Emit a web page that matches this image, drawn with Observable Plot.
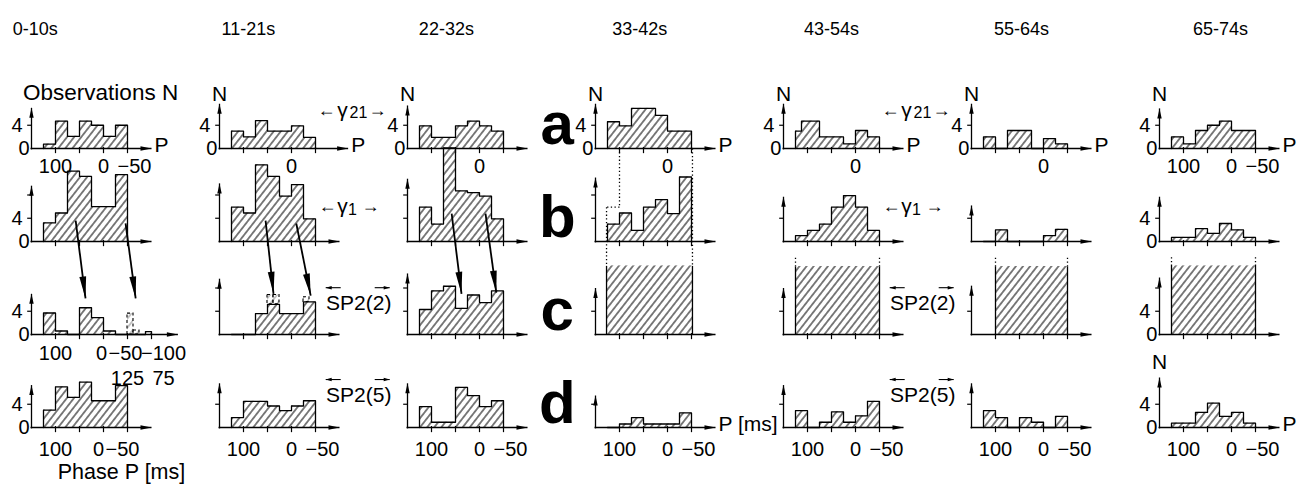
<!DOCTYPE html>
<html>
<head>
<meta charset="utf-8">
<script src="https://cdn.jsdelivr.net/npm/d3@7"></script>
<script src="https://cdn.jsdelivr.net/npm/@observablehq/plot@0.6"></script>
<style>
  html, body { margin: 0; padding: 0; background: #fff; }
  #chart svg { display: block; }
</style>
</head>
<body>
<div id="chart"></div>
<script>
// ---------------- DATA ----------------
const periods = ["0-10s", "11-21s", "22-32s", "33-42s", "43-54s", "55-64s", "65-74s"];
const rowKeys = ["a", "b", "c", "d"];
// phase bin edges (ms), 12.5 ms bins from 125 down
const binEdges = [125, 112.5, 100, 87.5, 75, 62.5, 50, 37.5, 25, 12.5, 0, -12.5, -25, -37.5, -50, -62.5, -75, -87.5, -100];

// observations N per bin, row a (gamma21)
const countsA = [
  [0.75, 0.75, 4.7, 4.7, 2.1, 2.1, 4.7, 4.7, 4, 4, 2.1, 2.1, 4, 4],
  [3, 3, 2, 2, 4.8, 4.8, 3, 3, 3, 3, 3.9, 3.9, 1.9, 1.9],
  [3.9, 3.9, 1.9, 1.9, 1.9, 1.9, 3.9, 3.9, 4.7, 4.7, 3.9, 3.9, 3, 3],
  [4.6, 4.6, 3.9, 3.9, 6.9, 6.9, 6.9, 6.9, 5.7, 5.7, 3, 3, 3, 3],
  [3, 4.7, 4.7, 4.7, 2, 2, 2, 2, 0.8, 0.8, 3.1, 3.1, 2, 2],
  [2, 2, 0, 0, 3.1, 3.1, 3.1, 3.1, 0, 0, 1.7, 1.7, 0.8, 0.8],
  [2, 2, 0.8, 0.8, 3.1, 3.1, 4, 4, 4.7, 4.7, 3.1, 3.1, 3.1, 3.1]
];
// row b (gamma1)
const countsB = [
  [3.2, 3.2, 4.9, 4.9, 12.1, 12.1, 11.2, 11.2, 6, 6, 6, 6, 11.5, 11.5],
  [5.9, 5.9, 4.9, 4.9, 13.2, 13.2, 11.2, 11.2, 7.8, 7.8, 9.8, 9.8, 3.9, 3.9],
  [5.9, 5.9, 3, 3, 16.1, 16.1, 8.7, 8.7, 8.4, 8.4, 7.8, 7.8, 3.9, 3.9],
  [3, 3, 4.9, 4.9, 1.9, 1.9, 5.9, 5.9, 7.2, 7.2, 4.8, 4.8, 11.1, 11.1],
  [1, 1, 1.9, 1.9, 3, 3, 5.9, 5.9, 7.9, 7.9, 5.9, 5.9, 1.9, 1.9],
  [0, 0, 2, 2, 0, 0, 0, 0, 0, 0, 1, 1, 2.1, 2.1],
  [0.7, 0.7, 0.7, 0.7, 2.2, 2.2, 1.4, 1.4, 3.1, 3.1, 2, 2, 0.7, 0.7]
];
// row c (SP2(2)); columns 4-7 are solid blocks (see blocksC)
const countsC = [
  [3.7, 3.7, 0.6, 0.6, 0, 0, 4.6, 4.6, 2.9, 2.9, 0.6, 0.6, 0, 0, 0, 0, 0, 0.5],
  [0, 0, 0, 0, 3.6, 3.6, 5.2, 5.2, 3.6, 3.6, 3.6, 3.6, 5.6, 5.6],
  [4.3, 4.3, 7.5, 7.5, 8.3, 8.3, 4.5, 4.5, 6.8, 6.8, 5.5, 5.5, 7.5, 7.5],
  null, null, null, null
];
// row d (SP2(5))
const countsD = [
  [3, 3, 7, 7, 5.2, 5.2, 7.8, 7.8, 4.6, 4.6, 4.6, 4.6, 7.2, 7.2],
  [1.7, 1.7, 4.5, 4.5, 4.5, 4.5, 3.7, 3.7, 2.9, 2.9, 3.7, 3.7, 4.6, 4.6],
  [3.6, 3.6, 0.9, 0.9, 0.9, 0.9, 6.9, 6.9, 5.5, 5.5, 3.6, 3.6, 4.6, 4.6],
  [0, 0, 0.6, 0.6, 1.7, 1.7, 0.6, 0.6, 0.6, 0.6, 0.6, 0.6, 2.5, 2.5],
  [2.9, 2.9, 0, 0, 0.9, 0.9, 2.7, 2.7, 0.9, 0.9, 2, 2, 4.5, 4.5],
  [2.9, 2.9, 1.7, 1.7, 0, 0, 1.7, 1.7, 0.9, 0.9, 0, 0, 1.9, 1.9],
  [0.75, 0.75, 0.75, 0.75, 2.6, 2.6, 4.2, 4.2, 1.9, 1.9, 2.6, 2.6, 0.75, 0.75]
];
// shifted (dashed) observations in row c: [column, bin index, N]
const dashedC = [[0, 14, 3.6], [0, 15, 0.7], [1, 6, 6.8], [1, 7, 6.8], [1, 12, 6.4]];
// solid blocks in row c: [column, P from, P to, N]
const blocksC = [[3, 127, -52, 11.8], [4, 125, -50, 11.7], [5, 100, -50, 11.7], [6, 125, -50, 11.8]];
// shift arrows from row b to row c: [column, P start, N start, P end, N end] (row b units)
const shiftArrows = [
  [0, 58, 3.6, 37.5, -9.8], [0, -46, 3.1, -67, -9.8],
  [1, 54, 3.6, 37.5, -9], [1, -10, 3.1, -40, -9.3],
  [2, 58, 4.8, 37.5, -9], [2, -12.5, 4.8, -35, -8.8]
];
// dotted guides: [row, column, P1, N1, P2, N2]
const guides = [
  ["b", 3, 100, 16, 100, 5.9], ["b", 3, 100, 5.9, 127, 5.9], ["b", 3, 127, 5.9, 127, -4.2], ["b", 3, -52, 16, -52, -4.2],
  ["c", 4, 125, 11.7, 125, 13.5], ["c", 4, -50, 11.7, -50, 13.5],
  ["c", 5, 100, 11.7, 100, 13.5], ["c", 5, -50, 11.7, -50, 13.5],
  ["c", 6, 125, 11.8, 125, 13.5], ["c", 6, -50, 11.8, -50, 13.5]
];
// N-axis heights per row/column
const axisTops = [
  [7, 7.7, 7.4, 7.7, 7.7, 7.7, 6.9],
  [9.6, 10, 10.8, 11, 7.7, 6.2, 7.7],
  [7, 9.6, 10.5, 8, 8, 8.4, 9.8],
  [7.3, 7.6, 7.6, 5.5, 7.3, 7.6, 8.6]
];
const xTickValues = [100, 50, 0, -50];
const yTickValues = [4, 8];
const xLabelSets = {
  full: [[100, "100", 0], [0, "0", 0], [-50, "−50", 7]],
  tight: [[100, "100", 0], [0, "0", -5], [-50, "−50", -5]],
  zero: [[0, "0", 0]],
  wide: [[100, "100", 0], [0, "0", -2], [-50, "−50", -2], [-100, "−100", 12]]
};
const xLabelPanels = [
  ["a", 0, "full"], ["a", 1, "zero"], ["a", 2, "zero"], ["a", 3, "zero"], ["a", 4, "zero"], ["a", 5, "zero"], ["a", 6, "full"],
  ["c", 0, "wide"],
  ["d", 0, "tight"], ["d", 1, "full"], ["d", 2, "full"], ["d", 3, "full"], ["d", 4, "full"], ["d", 5, "full"], ["d", 6, "full"]
];
const wrapLabels = [[-50, "125", 0], [-100, "75", 12]];
const yLabelPanels = [["a", 0], ["a", 1], ["a", 2], ["a", 3], ["a", 4], ["a", 5], ["a", 6],
  ["b", 0], ["b", 6], ["c", 0], ["c", 6], ["d", 0], ["d", 6]];
const pLabels = [["a", 0, "P"], ["a", 1, "P"], ["a", 3, "P"], ["a", 4, "P"], ["a", 5, "P"], ["a", 6, "P"], ["d", 3, "P [ms]"], ["d", 6, "P"]];
const nLabels = [["a", 1, 9.3], ["a", 2, 9.3], ["a", 3, 9.3], ["a", 4, 9.3], ["a", 5, 9.3], ["a", 6, 9.3], ["d", 6, 11.2]];
// gamma labels: [row, column, subscript]
const gammaLabels = [["a", 1, "21"], ["a", 4, "21"], ["b", 1, "1"], ["b", 4, "1"]];
const spLabels = [["c", 1, "SP2(2)"], ["c", 4, "SP2(2)"], ["d", 1, "SP2(5)"], ["d", 4, "SP2(5)"]];
const headerP = [142, 90, 69, 58, 50, 46, 23];

// ---------------- LAYOUT ----------------
const W = 1299, H = 487;
const M = {top: 55, right: 20, bottom: 60, left: 31};
const yMax = 16;
const xDom = [150, -100];
const fxPad = 0.3617;
const step = (W - M.left - M.right) / (7 - fxPad);
const bw = step * (1 - fxPad);
const kx = bw / (xDom[0] - xDom[1]);
const ky = ((H - M.top - M.bottom) / 4) / yMax;
const axisP = 150;
const FONT = "'Liberation Sans', 'DejaVu Sans', Arial, sans-serif";
const xEndOf = (r, c) => (r === "c" && c === 0) ? -155 : (r === "a" && c === 1) ? -118 : -100;
const shiftP = (P, dx) => P - dx / kx;   // pixel nudge expressed in phase units

// ---------------- DERIVED TABLES ----------------
const countsByRow = {a: countsA, b: countsB, c: countsC, d: countsD};
const bars = [], outlines = [];
for (const r of rowKeys) {
  countsByRow[r].forEach((vals, c) => {
    if (!vals) return;
    const key = r + c;
    outlines.push({key, row: r, col: c, P: binEdges[0], N: 0});
    vals.forEach((v, i) => {
      if (v > 0) bars.push({row: r, col: c, x1: binEdges[i], x2: binEdges[i + 1], y1: 0, y2: v});
      outlines.push({key, row: r, col: c, P: binEdges[i], N: v}, {key, row: r, col: c, P: binEdges[i + 1], N: v});
    });
    outlines.push({key, row: r, col: c, P: binEdges[vals.length], N: 0});
  });
}
const blocks = blocksC.map(([c, p1, p2, n]) => ({row: "c", col: c, x1: p1, x2: p2, y1: 0, y2: n}));
const blockSides = blocksC.flatMap(([c, p1, p2, n]) => [{row: "c", col: c, P: p1, N: n}, {row: "c", col: c, P: p2, N: n}]);
const dashed = dashedC.map(([c, i, n]) => ({row: "c", col: c, x1: binEdges[i], x2: binEdges[i + 1], y1: countsC[c][i] || 0, y2: n}));

const panels = rowKeys.flatMap((r, ri) => periods.map((_, c) => ({row: r, col: c, top: axisTops[ri][c], xEnd: xEndOf(r, c)})));
const xTicks = panels.flatMap(p => (p.row === "c" && p.col === 0 ? [...xTickValues, -100] : xTickValues).map(P => ({row: p.row, col: p.col, P})));
const yTicks = panels.flatMap(p => yTickValues.filter(v => v < p.top - 1).map(N => ({row: p.row, col: p.col, N})));
const labelDy = {a: 18, c: 19, d: 22};
const xLabels = xLabelPanels.flatMap(([r, c, set]) => xLabelSets[set].map(([P, text, dx]) => ({row: r, col: c, P: shiftP(P, dx), text})));
const wraps = wrapLabels.map(([P, text, dx]) => ({row: "c", col: 0, P: shiftP(P, dx), text}));
const yLabels = yLabelPanels.flatMap(([r, c]) => [{row: r, col: c, N: 4, text: "4"}, {row: r, col: c, N: 0, text: "0"}]);
const pTexts = pLabels.map(([r, c, text]) => ({row: r, col: c, P: xEndOf(r, c), text}));
const nTexts = nLabels.map(([r, c, N]) => ({row: r, col: c, N, text: "N"}));
// gamma label pieces: arrow, γ, subscript, arrow
const gammaParts = gammaLabels.flatMap(([r, c, sub]) => {
  const P0 = r === "a" ? -125 : -123, N = r === "a" ? 6.6 : 6;
  const wide = sub.length > 1;
  return [
    {row: r, col: c, N, kind: "arrow", text: "←", P: shiftP(P0, wide ? -25 : -23)},
    {row: r, col: c, N, kind: "gamma", text: "γ", P: shiftP(P0, wide ? -9 : -8)},
    {row: r, col: c, N, kind: "sub", text: sub, P: shiftP(P0, wide ? 7 : 2)},
    {row: r, col: c, N, kind: "arrow", text: "→", P: shiftP(P0, wide ? 26 : 20)}
  ];
});
const sTexts = spLabels.map(([r, c, text]) => ({row: r, col: c, text, P: -140, N: r === "c" ? 5.3 : 5.5}));
// over-arrows of SP2 labels (left over "S", right over the parenthesis)
const spArrows = sTexts.flatMap(d => [
  {row: d.row, col: d.col, p1: shiftP(d.P, -18), p2: shiftP(d.P, -33), N: d.N + 16 / ky, rot: 270},
  {row: d.row, col: d.col, p1: shiftP(d.P, 16), p2: shiftP(d.P, 31), N: d.N + 16 / ky, rot: 90}
]);
const headers = periods.map((text, c) => ({row: "a", col: c, P: headerP[c], text}));
const letters = rowKeys.map(r => ({row: r, col: 2, P: -162, N: 0.7, text: r}));
const arrows = shiftArrows.map(([c, p1, n1, p2, n2]) => {
  const dxp = (p1 - p2) * kx, dyp = -(n2 - n1) * ky;
  return {row: "b", col: c, p1, n1, p2, n2, rot: Math.atan2(dxp, -dyp) * 180 / Math.PI};
});
const guideRows = guides.map(([r, c, p1, n1, p2, n2]) => ({row: r, col: c, p1, n1, p2, n2}));

const F = {fx: "col", fy: "row"};

const svg = Plot.plot({
  width: W, height: H,
  marginTop: M.top, marginRight: M.right, marginBottom: M.bottom, marginLeft: M.left,
  x: {domain: xDom, axis: null},
  y: {domain: [0, yMax], axis: null},
  fx: {domain: d3.range(7), axis: null, paddingInner: fxPad, paddingOuter: 0, round: false},
  fy: {domain: rowKeys, axis: null, padding: 0, round: false},
  style: {fontFamily: FONT, background: "#fff", color: "#000", overflow: "visible"},
  marks: [
    // hatched histogram bodies
    Plot.rect(bars, {x1: "x1", x2: "x2", y1: "y1", y2: "y2", ...F, fill: "url(#hatch)"}),
    Plot.rect(blocks, {x1: "x1", x2: "x2", y1: "y1", y2: "y2", ...F, fill: "url(#hatch)"}),
    Plot.rect(dashed, {x1: "x1", x2: "x2", y1: "y1", y2: "y2", ...F, fill: "url(#hatch)", fillOpacity: 0.45,
      stroke: "#000", strokeWidth: 1.1, strokeDasharray: "3,2.5"}),
    // step outlines
    Plot.line(outlines, {x: "P", y: "N", z: "key", ...F, stroke: "#000", strokeWidth: 1.3}),
    Plot.link(blockSides, {x1: "P", x2: "P", y1: 0, y2: "N", ...F, stroke: "#000", strokeWidth: 1.3}),
    // dotted guides
    Plot.link(guideRows, {x1: "p1", y1: "n1", x2: "p2", y2: "n2", ...F, stroke: "#000", strokeWidth: 1.3, strokeDasharray: "1.3,2.4"}),
    // axes
    Plot.link(panels, {x1: axisP, x2: axisP, y1: -0.15, y2: "top", ...F, stroke: "#000", strokeWidth: 1.3}),
    Plot.link(panels, {x1: axisP + 2, x2: "xEnd", y1: 0, y2: 0, ...F, stroke: "#000", strokeWidth: 1.3}),
    Plot.vector(panels, {x: axisP, y: "top", ...F, rotate: 0, length: 10, r: 2.2, shape: "spike", anchor: "end", fill: "#000", stroke: "none"}),
    Plot.vector(panels, {x: "xEnd", y: 0, ...F, rotate: 90, length: 11, r: 2.2, shape: "spike", anchor: "end", fill: "#000", stroke: "none"}),
    Plot.link(xTicks, {x1: "P", x2: "P", y1: 0.25, y2: -0.8, ...F, stroke: "#000", strokeWidth: 1.2}),
    Plot.link(yTicks, {x1: axisP, x2: axisP + 9, y1: "N", y2: "N", ...F, stroke: "#000", strokeWidth: 1.2}),
    // shift arrows b -> c
    Plot.link(arrows, {x1: "p1", y1: "n1", x2: "p2", y2: "n2", ...F, stroke: "#000", strokeWidth: 1.8}),
    Plot.vector(arrows, {x: "p2", y: "n2", rotate: "rot", ...F, length: 22, r: 3.4, shape: "spike", anchor: "end", fill: "#000", stroke: "none"}),
    // over-arrows of SP2 labels
    Plot.link(spArrows, {x1: "p1", x2: "p2", y1: "N", y2: "N", ...F, stroke: "#000", strokeWidth: 1.1}),
    Plot.vector(spArrows, {x: "p2", y: "N", rotate: "rot", ...F, length: 6, r: 1.8, shape: "spike", anchor: "end", fill: "#000", stroke: "none"}),
    // texts
    Plot.text(headers, {x: "P", ...F, text: "text", frameAnchor: "top", dy: -33, fontSize: 18}),
    Plot.text([{row: "a", col: 0, P: 6, N: 9.5}], {x: "P", y: "N", ...F, text: () => "Observations N", fontSize: 22.5}),
    Plot.text(nTexts, {x: axisP, y: "N", ...F, text: "text", fontSize: 21}),
    Plot.text(yLabels.filter(d => d.text === "4"), {x: axisP, y: "N", ...F, text: "text", textAnchor: "end", dx: -9, fontSize: 20}),
    Plot.text(yLabels.filter(d => d.text === "0"), {x: axisP, y: "N", ...F, text: "text", textAnchor: "end", dx: -2, fontSize: 20}),
    Plot.text(xLabels.filter(d => d.row === "a"), {x: "P", y: 0, ...F, text: "text", dy: labelDy.a, fontSize: 20}),
    Plot.text(xLabels.filter(d => d.row === "c"), {x: "P", y: 0, ...F, text: "text", dy: labelDy.c, fontSize: 20}),
    Plot.text(xLabels.filter(d => d.row === "d"), {x: "P", y: 0, ...F, text: "text", dy: labelDy.d, fontSize: 20}),
    Plot.text(wraps, {x: "P", y: 0, ...F, text: "text", dy: 44, fontSize: 20}),
    Plot.text([{row: "d", col: 0, P: -37.5, N: -7.6}], {x: "P", y: "N", ...F, text: () => "Phase P [ms]", fontSize: 21.5}),
    Plot.text(pTexts, {x: "P", y: 0.6, ...F, text: "text", textAnchor: "start", dx: 3, fontSize: 21}),
    Plot.text(gammaParts.filter(d => d.kind === "arrow"), {x: "P", y: "N", ...F, text: "text", fontSize: 18}),
    Plot.text(gammaParts.filter(d => d.kind === "gamma"), {x: "P", y: "N", ...F, text: "text", fontSize: 21}),
    Plot.text(gammaParts.filter(d => d.kind === "sub"), {x: "P", y: "N", ...F, text: "text", dy: 3, fontSize: 16}),
    Plot.text(sTexts, {x: "P", y: "N", ...F, text: "text", fontSize: 21}),
    Plot.text(letters, {x: "P", y: "N", ...F, text: "text", lineAnchor: "bottom", fontSize: 60, fontWeight: "bold"})
  ]
});

// hatch pattern
const defs = d3.create("svg:defs");
const pat = defs.append("pattern")
  .attr("id", "hatch").attr("patternUnits", "userSpaceOnUse")
  .attr("width", 5.6).attr("height", 10).attr("patternTransform", "rotate(38)");
pat.append("rect").attr("width", 5.6).attr("height", 10).attr("fill", "#fff");
pat.append("line").attr("x1", 2.8).attr("y1", -1).attr("x2", 2.8).attr("y2", 11)
  .attr("stroke", "#000").attr("stroke-width", 1);
svg.insertBefore(defs.node(), svg.firstChild);

document.getElementById("chart").appendChild(svg);
</script>
</body>
</html>
